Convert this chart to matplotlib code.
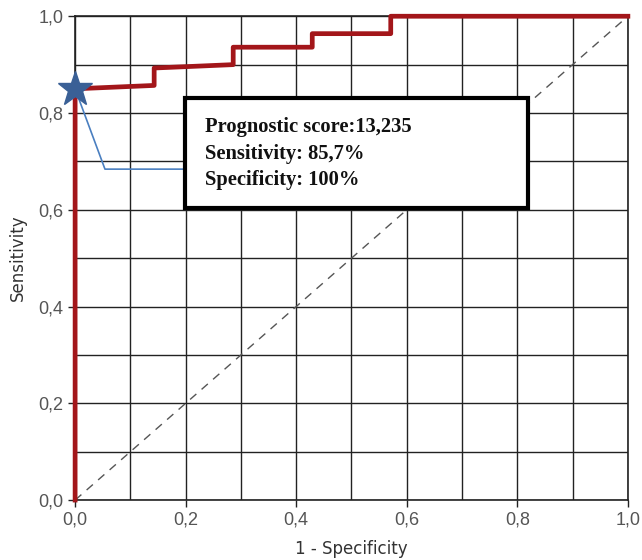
import numpy as np
import matplotlib.pyplot as plt
from matplotlib.patches import Rectangle

# ROC curve points (1 - specificity, sensitivity)
fpr = [0.0, 0.0, 0.143, 0.143, 0.286, 0.286, 0.429, 0.429, 0.571, 0.571, 1.0]
tpr = [0.0, 0.850, 0.857, 0.893, 0.900, 0.936, 0.936, 0.964, 0.964, 1.0, 1.0]

# optimal cut-off
cut_x, cut_y = 0.0, 0.850
# leader line from cut-off to the label box
lead_x = [0.0, 0.054, 0.20]
lead_y = [0.850, 0.684, 0.684]

ticks = [0.0, 0.2, 0.4, 0.6, 0.8, 1.0]
tick_labels = ["0,0", "0,2", "0,4", "0,6", "0,8", "1,0"]
box_text = "Prognostic score:13,235\nSensitivity: 85,7%\nSpecificity: 100%"

fig = plt.figure(figsize=(6.42, 5.6), dpi=100)
ax = fig.add_axes([0.117, 0.107, 0.861, 0.864])

ax.set_xlim(0, 1)
ax.set_ylim(0, 1)
ax.set_xticks(np.arange(0, 1.01, 0.1), minor=True)
ax.set_yticks(np.arange(0, 1.01, 0.1), minor=True)
ax.set_xticks(ticks)
ax.set_yticks(ticks)
ax.set_xticklabels(tick_labels)
ax.set_yticklabels(tick_labels)
ax.grid(True, which="both", color="#222222", lw=1.0)
ax.tick_params(which="minor", length=0)
ax.tick_params(which="major", length=5, width=1, color="#222222",
               labelsize=13, labelcolor="#555555")
for lab in ax.get_xticklabels() + ax.get_yticklabels():
    lab.set_family("Liberation Sans")
for s in ax.spines.values():
    s.set_color("#222222")
    s.set_linewidth(1.2)

ax.plot([0, 1], [0, 1], ls=(0, (6, 5)), color="#555555", lw=1.0, zorder=3)
ax.plot(lead_x, lead_y, color="#4a7fc0", lw=1.2, zorder=4)
ax.plot(fpr, tpr, color="#a3161a", lw=3.4, zorder=5, clip_on=False)
ax.plot(cut_x, cut_y, marker="*", ms=26, color="#3a6096", mec="#3a6096",
        zorder=6, clip_on=False)

# label box
ax.add_patch(Rectangle((0.199, 0.603), 0.62, 0.228, fc="white", ec="black",
                       lw=3.0, zorder=7))
ax.text(0.235, 0.716, box_text, ha="left", va="center",
        family="Liberation Serif", fontsize=14.8, fontweight="bold",
        color="#111111", linespacing=1.45, zorder=8)

ax.set_xlabel("1 - Specificity", fontsize=12, color="#333333", labelpad=8)
ax.set_ylabel("Sensitivity", fontsize=12, color="#333333", labelpad=8)

fig.savefig("out.png", dpi=100, facecolor="white")
